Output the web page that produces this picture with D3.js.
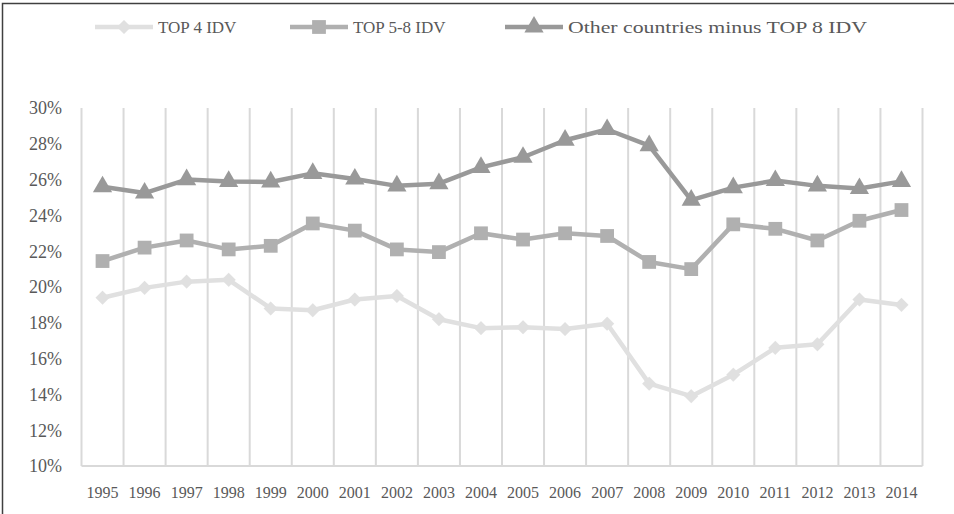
<!DOCTYPE html>
<html>
<head>
<meta charset="utf-8">
<script src="https://cdn.jsdelivr.net/npm/d3@7"></script>
<style>
  body { margin: 0; background: #fff; }
  text { font-family: "Liberation Serif", "DejaVu Serif", serif; fill: #595959; }
</style>
</head>
<body>
<div id="chart"></div>
<script>
// share per year, three groups of countries
const years = ["1995","1996","1997","1998","1999","2000","2001","2002","2003","2004",
               "2005","2006","2007","2008","2009","2010","2011","2012","2013","2014"];
const top4 = [19.4, 19.95, 20.3, 20.4, 18.8, 18.7, 19.3, 19.5, 18.2, 17.7,
              17.75, 17.65, 17.95, 14.6, 13.9, 15.1, 16.6, 16.8, 19.3, 19.0];
const top58 = [21.45, 22.2, 22.6, 22.1, 22.3, 23.55, 23.15, 22.1, 21.95, 23.0,
               22.65, 23.0, 22.85, 21.4, 21.0, 23.5, 23.25, 22.6, 23.7, 24.3];
const others = [25.6, 25.25, 26.0, 25.9, 25.87, 26.35, 26.03, 25.65, 25.77, 26.68,
                27.25, 28.2, 28.8, 27.9, 24.85, 25.55, 25.95, 25.65, 25.5, 25.9];
const seriesNames = ["TOP 4 IDV", "TOP 5-8 IDV", "Other countries minus TOP 8 IDV"];
const yTicks = [10, 12, 14, 16, 18, 20, 22, 24, 26, 28, 30];

let width = 954;
let height = 514;

const series = [
  {name: seriesNames[0], values: top4, color: "#e0e0e0", marker: "diamond"},
  {name: seriesNames[1], values: top58, color: "#b0b0b0", marker: "square"},
  {name: seriesNames[2], values: others, color: "#999999", marker: "triangle"}
];

var svg = d3.select("#chart")
    .append("svg")
    .attr("width", width)
    .attr("height", height);

// soft edges on the markers
svg.append("defs").append("filter")
    .attr("id", "soft")
    .append("feGaussianBlur")
    .attr("stdDeviation", 0.7);

// outer chart border (runs past the picture on right and bottom)
svg.append("rect")
    .attr("x", 2.5).attr("y", 3.5)
    .attr("width", width + 10).attr("height", height + 10)
    .attr("fill", "none")
    .attr("stroke", "#404040")
    .attr("stroke-width", 1.5);

const x = d3.scaleBand().domain(years).range([81.5, 922.5]).padding(0);
const y = d3.scaleLinear().domain([10, 30]).range([466, 108]);

// vertical gridlines between categories
const bounds = years.map(d => x(d)).concat([x.range()[1]]);
svg.append("g").selectAll("line")
    .data(bounds)
    .join("line")
    .attr("x1", d => d).attr("x2", d => d)
    .attr("y1", y(30)).attr("y2", y(10))
    .attr("stroke", "#d9d9d9")
    .attr("stroke-width", 2);

// baseline
svg.append("line")
    .attr("x1", x.range()[0]).attr("x2", x.range()[1])
    .attr("y1", y(10)).attr("y2", y(10))
    .attr("stroke", "#d9d9d9")
    .attr("stroke-width", 2);

// y labels
svg.append("g").selectAll("text")
    .data(yTicks)
    .join("text")
    .attr("x", 62)
    .attr("y", d => y(d))
    .attr("dy", "0.35em")
    .attr("text-anchor", "end")
    .attr("font-size", "18px")
    .text(d => d + "%");

// x labels
svg.append("g").selectAll("text")
    .data(years)
    .join("text")
    .attr("x", d => x(d) + x.bandwidth() / 2)
    .attr("y", 492)
    .attr("dy", "0.35em")
    .attr("text-anchor", "middle")
    .attr("font-size", "16px")
    .text(d => d);

function markerPath(type) {
  if (type === "square") return d3.symbol(d3.symbolSquare, 190)();
  if (type === "triangle") return d3.symbol(d3.symbolTriangle, 160)();
  return d3.symbol(d3.symbolSquare, 100)();
}
function markerRotate(type) { return type === "diamond" ? " rotate(45)" : ""; }

let line = d3.line()
    .x((d, i) => x(years[i]) + x.bandwidth() / 2)
    .y(d => y(d));

series.forEach(s => {
  const g = svg.append("g");
  g.append("path")
      .datum(s.values)
      .attr("d", line)
      .attr("fill", "none")
      .attr("stroke", s.color)
      .attr("stroke-width", 4.5)
      .attr("stroke-linejoin", "round");
  g.selectAll(".mk")
      .data(s.values)
      .join("path")
      .attr("class", "mk")
      .attr("d", markerPath(s.marker))
      .attr("transform", (d, i) => "translate(" + (x(years[i]) + x.bandwidth() / 2) + "," + y(d) + ")" + markerRotate(s.marker))
      .attr("fill", s.color)
      .attr("filter", "url(#soft)");
});

// legend
const legendX = [95, 290, 505];
const leg = svg.append("g").selectAll("g")
    .data(series)
    .join("g")
    .attr("transform", (d, i) => "translate(" + legendX[i] + ",27)");
leg.append("line")
    .attr("x1", 0).attr("x2", 58)
    .attr("stroke", d => d.color)
    .attr("stroke-width", 4.5);
leg.append("path")
    .attr("d", d => markerPath(d.marker))
    .attr("transform", d => "translate(29,0)" + markerRotate(d.marker))
    .attr("fill", d => d.color)
    .attr("filter", "url(#soft)");
leg.append("text")
    .attr("x", 63)
    .attr("dy", "0.35em")
    .attr("font-size", "17px")
    .text(d => d.name);
// the last label is set wider in the original
leg.filter((d, i) => i === 2).select("text")
    .attr("textLength", 299)
    .attr("lengthAdjust", "spacingAndGlyphs");
</script>
</body>
</html>
